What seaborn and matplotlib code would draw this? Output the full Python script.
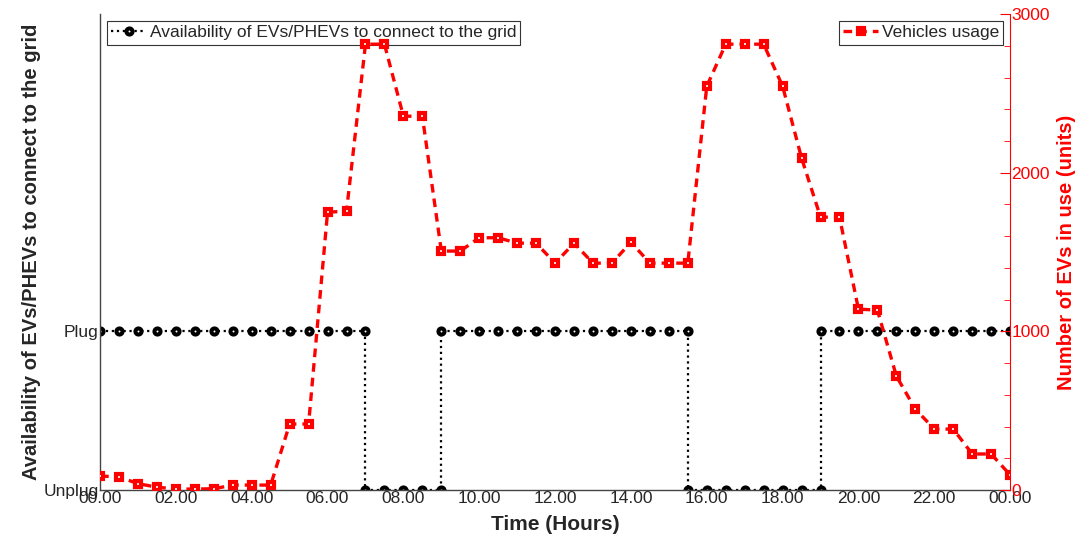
import numpy as np
import pandas as pd
import matplotlib
matplotlib.use("Agg")
import matplotlib.pyplot as plt
import seaborn as sns
from matplotlib.ticker import MultipleLocator

sns.set_style("white")
plt.rcParams['font.family'] = ['Liberation Sans', 'DejaVu Sans']

# Availability of EVs/PHEVs (1 = Plug, 0 = Unplug), half-hour steps,
# with the switch points repeated so that the step is drawn vertically
avail_hours = ([h / 2 for h in range(0, 15)] + [h / 2 for h in range(14, 19)]
               + [h / 2 for h in range(18, 32)] + [h / 2 for h in range(31, 39)]
               + [h / 2 for h in range(38, 49)])
avail_state = [1] * 15 + [0] * 5 + [1] * 14 + [0] * 8 + [1] * 11

# Vehicles usage (units), every half hour from 00.00 to 24.00
usage_hours = [h / 2 for h in range(0, 49)]
usage_values = [88, 83, 40, 18, 6, 6, 8, 31, 31, 31,
                416, 416, 1751, 1758, 2810, 2810, 2356, 2356, 1506, 1506,
                1590, 1590, 1556, 1556, 1430, 1556, 1430, 1430, 1562, 1430,
                1430, 1430, 2545, 2810, 2810, 2810, 2545, 2092, 1720, 1720,
                1140, 1134, 718, 510, 384, 384, 227, 227, 95]

x_ticks = list(range(0, 25, 2))
x_tick_labels = ["%02d.00" % (h % 24) for h in x_ticks]

avail_df = pd.DataFrame({"hour": avail_hours, "state": avail_state})
usage_df = pd.DataFrame({"hour": usage_hours, "units": usage_values})

fig = plt.figure(figsize=(10.85, 5.36), dpi=100)
ax1 = fig.add_axes([0.0922, 0.0858, 0.8388, 0.888])

sns.lineplot(data=avail_df, x="hour", y="state", ax=ax1, estimator=None, sort=False,
             color="black", linestyle=":", linewidth=1.6, marker="o", markersize=4.4,
             markerfacecolor="white", markeredgecolor="black", markeredgewidth=2.9,
             label="Availability of EVs/PHEVs to connect to the grid")

ax1.set_xlim(0, 24)
ax1.set_ylim(0, 3)
ax1.set_yticks([0, 1])
ax1.set_yticklabels(["Unplug", "Plug"], fontsize=12.5)
ax1.tick_params(axis="y", length=0, pad=1)
ax1.set_xticks(x_ticks)
ax1.set_xticklabels(x_tick_labels, fontsize=12.5)
ax1.xaxis.set_minor_locator(MultipleLocator(1))
ax1.tick_params(axis="x", which="major", direction="in", length=7, color="#444", pad=1)
ax1.tick_params(axis="x", which="minor", direction="in", length=4, color="#444")
ax1.set_xlabel("Time (Hours)", fontsize=15, fontweight="bold", labelpad=6)
ax1.set_ylabel("Availability of EVs/PHEVs to connect to the grid", fontsize=14.5,
               fontweight="bold", labelpad=2)
for s in ["top", "right"]:
    ax1.spines[s].set_visible(False)
for s in ["left", "bottom"]:
    ax1.spines[s].set_color("#444")
    ax1.spines[s].set_linewidth(1.0)

ax2 = ax1.twinx()
sns.lineplot(data=usage_df, x="hour", y="units", ax=ax2, estimator=None, sort=False,
             color="red", linestyle=(0, (2.6, 1.8)), linewidth=2.4, marker="s", markersize=5,
             markerfacecolor="white", markeredgecolor="red", markeredgewidth=3,
             label="Vehicles usage")
ax2.set_xlim(0, 24)
ax2.set_ylim(0, 3000)
ax2.set_yticks([0, 1000, 2000, 3000])
ax2.yaxis.set_minor_locator(MultipleLocator(200))
ax2.tick_params(axis="y", which="major", direction="in", length=7, colors="red",
                labelsize=12.5, pad=1)
ax2.tick_params(axis="y", which="minor", direction="in", length=4, color="red")
ax2.set_ylabel("Number of EVs in use (units)", fontsize=14.5, fontweight="bold",
               color="red", labelpad=5)
for s in ["top", "left", "bottom"]:
    ax2.spines[s].set_visible(False)
ax2.spines["right"].set_color("red")

leg1 = ax1.legend(loc="upper left", fontsize=12.5, frameon=True, fancybox=False,
                  edgecolor="black", handlelength=2.0, handletextpad=0.2,
                  borderpad=0.25, borderaxespad=0.4)
leg1.get_frame().set_linewidth(0.8)
leg2 = ax2.legend(loc="upper right", fontsize=12.5, frameon=True, fancybox=False,
                  edgecolor="black", handlelength=2.0, handletextpad=0.2,
                  borderpad=0.25, borderaxespad=0.4)
leg2.get_frame().set_linewidth(0.8)
for h in leg2.legend_handles:
    h.set_markerfacecolor("red")

fig.savefig("out.png", dpi=100)
